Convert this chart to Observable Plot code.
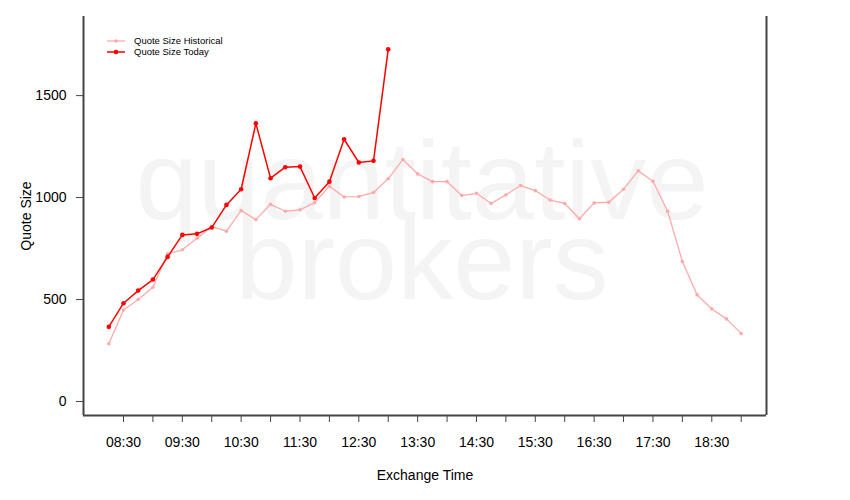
<!DOCTYPE html>
<html>
<head>
<meta charset="utf-8">
<script src="https://cdn.jsdelivr.net/npm/d3@7"></script>
<script src="https://cdn.jsdelivr.net/npm/@observablehq/plot@0.6"></script>
<style>
  html, body { margin: 0; padding: 0; background: #fff; }
  #chart { width: 850px; height: 500px; }
  svg { font-family: "Liberation Sans", Arial, Helvetica, sans-serif; }
</style>
</head>
<body>
<div id="chart"></div>
<script>
const histTimes = ["08:15","08:30","08:45","09:00","09:15","09:30","09:45","10:00","10:15","10:30","10:45",
  "11:00","11:15","11:30","11:45","12:00","12:15","12:30","12:45","13:00","13:15","13:30","13:45",
  "14:00","14:15","14:30","14:45","15:00","15:15","15:30","15:45","16:00","16:15","16:30","16:45",
  "17:00","17:15","17:30","17:45","18:00","18:15","18:30","18:45","19:00"];
const histValues = [283, 449, 500, 560, 724, 744, 801, 858, 835, 936, 892,
  967, 933, 940, 975, 1056, 1003, 1005, 1025, 1092, 1187, 1116, 1078,
  1078, 1010, 1021, 971, 1013, 1059, 1034, 988, 971, 896, 974, 977,
  1041, 1131, 1080, 933, 686, 523, 454, 405, 333];
const todayTimes = ["08:15","08:30","08:45","09:00","09:15","09:30","09:45","10:00","10:15","10:30",
  "10:45","11:00","11:15","11:30","11:45","12:00","12:15","12:30","12:45","13:00"];
const todayValues = [366, 482, 544, 598, 709, 817, 822, 853, 964, 1041,
  1364, 1095, 1149, 1152, 998, 1078, 1286, 1172, 1180, 1727];
const tickTimes = ["08:30","09:00","09:30","10:00","10:30","11:00","11:30","12:00","12:30","13:00","13:30",
  "14:00","14:30","15:00","15:30","16:00","16:30","17:00","17:30","18:00","18:30","19:00"];
const tickLabels = ["08:30","09:30","10:30","11:30","12:30","13:30","14:30","15:30","16:30","17:30","18:30"];
const yTicks = [0, 500, 1000, 1500];
const seriesNames = ["Quote Size Historical", "Quote Size Today"];
const seriesColors = ["#ffaaaa", "#ff0000"];

const parse = d3.utcParse("%H:%M");
const hist = histTimes.map((t, i) => ({time: parse(t), value: histValues[i]}));
const today = todayTimes.map((t, i) => ({time: parse(t), value: todayValues[i]}));
const t0 = hist[0].time, t1 = hist[hist.length - 1].time;
const pad = 0.04 * (t1 - t0);
const xDomain = [new Date(+t0 - pad), new Date(+t1 + pad)];
const yDomain = [-68.7, 1888];
const fmt = d3.utcFormat("%H:%M");

const plot = Plot.plot({
  width: 850,
  height: 500,
  marginLeft: 83,
  marginRight: 84,
  marginTop: 16,
  marginBottom: 85,
  style: {fontFamily: '"Liberation Sans", Arial, Helvetica, sans-serif', background: "#fff", color: "#000"},
  x: {type: "utc", domain: xDomain},
  y: {domain: yDomain},
  marks: [
    Plot.text(["quantitative\nbrokers"], {
      frameAnchor: "middle", fontSize: 112, lineHeight: 0.714, fill: "#f4f4f4",
      dx: -3, dy: 17, fontFamily: '"Liberation Sans", Arial, sans-serif'
    }),
    Plot.axisY({
      ticks: yTicks, tickSize: 7, tickPadding: 10, fontSize: 14, stroke: "#444",
      label: null, tickFormat: d => String(d)
    }),
    Plot.axisX({
      ticks: tickTimes.map(parse), tickSize: 7, tickPadding: 14.5, fontSize: 14, stroke: "#444",
      label: null, tickFormat: d => tickLabels.includes(fmt(d)) ? fmt(d) : ""
    }),
    Plot.ruleX(xDomain, {stroke: "#444", strokeWidth: 2}),
    Plot.ruleY([yDomain[0]], {stroke: "#444", strokeWidth: 2}),
    Plot.line(hist, {x: "time", y: "value", stroke: seriesColors[0], strokeWidth: 1.3}),
    Plot.dot(hist, {x: "time", y: "value", fill: seriesColors[0], r: 1.8}),
    Plot.line(today, {x: "time", y: "value", stroke: seriesColors[1], strokeWidth: 1.5}),
    Plot.dot(today, {x: "time", y: "value", fill: seriesColors[1], r: 2.3}),
    Plot.text(["Quote Size"], {frameAnchor: "left", textAnchor: "middle", dx: -57, rotate: -90, fontSize: 14, fill: "#000"}),
    Plot.text(["Exchange Time"], {frameAnchor: "bottom", dy: 64, fontSize: 14, fill: "#000"})
  ]
});

// Legend (top-left inside the plot area)
const svg = d3.select(plot);
const lg = svg.append("g").attr("font-size", 9.5).attr("text-anchor", "start")
  .attr("font-family", '"Liberation Sans", Arial, sans-serif');
seriesNames.forEach((name, i) => {
  const y = 41 + i * 11;
  lg.append("line").attr("x1", 107).attr("x2", 125).attr("y1", y).attr("y2", y)
    .attr("stroke", seriesColors[i]).attr("stroke-width", i ? 1.5 : 1.3);
  lg.append("circle").attr("cx", 116).attr("cy", y).attr("r", i ? 2.3 : 1.8).attr("fill", seriesColors[i]);
  lg.append("text").attr("x", 134).attr("y", y).attr("dy", "0.35em").attr("text-anchor", "start")
    .attr("fill", "#000").text(name);
});

document.getElementById("chart").appendChild(plot);
</script>
</body>
</html>
